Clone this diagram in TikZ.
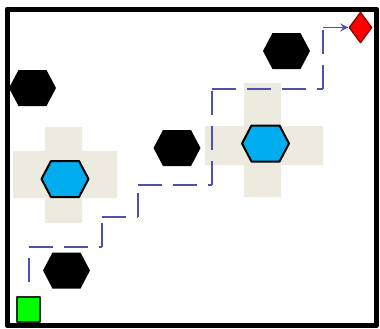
\documentclass[tikz,border=0pt]{standalone}
\usetikzlibrary{shapes.geometric}
\definecolor{sand}{RGB}{237,234,224}
\definecolor{sky}{RGB}{0,174,239}
\definecolor{route}{RGB}{80,80,176}
\begin{document}
\begin{tikzpicture}[x=0.5pt,y=-0.5pt,line join=round,>=stealth,every node/.style={inner sep=0pt},
  hex/.pic={\path[pic actions] (-23.5,0) -- (-14,-18) -- (14,-18) -- (23.5,0) -- (14,18) -- (-14,18) -- cycle;},
  leg/.style={draw=route,line width=0.8pt,dash pattern=on 12pt off 5.5pt}]
  \useasboundingbox (0,0) rectangle (380,328);
  \fill[sand] (13,151) rectangle (117,198) (45,127) rectangle (82,223);
  \fill[sand] (205,126) rectangle (323,165) (244,83) rectangle (281,197);
  \node[rectangle,draw=black!85,line width=1pt,fill=green,minimum width=11.5pt,minimum height=12.5pt] (start) at (28.5,309.5) {};
  \node[diamond,draw=red!50!black,line width=0.6pt,fill=red,minimum width=11.5pt,minimum height=15.5pt] (goal) at (360.5,27.5) {};
  \coordinate (p0) at (29,282);
  \coordinate (p1) at (29,247);
  \coordinate (p2) at (102,247);
  \coordinate (p3) at (102,217);
  \coordinate (p4) at (138,217);
  \coordinate (p5) at (138,185);
  \coordinate (p6) at (212,185);
  \coordinate (p7) at (212,89);
  \coordinate (p8) at (323,89);
  \coordinate (p9) at (323,27.5);
  \foreach \a/\b in {p0/p1,p1/p2,p2/p3,p3/p4,p4/p5,p5/p6,p6/p7,p7/p8,p8/p9}
    \draw[leg] (\a) -- (\b);
  \draw[leg,->] (p9) -- (goal.west);
  \foreach \c in {(32.5,88),(177,148),(286.5,51),(66.5,270.5)}
    \pic[fill=black] at \c {hex};
  \foreach \c in {(65,179),(265.5,143.5)}
    \pic[fill=sky,draw=black,line width=1pt] at \c {hex};
  \draw[line width=2.5pt] (7,9) rectangle (376.5,325.5);
\end{tikzpicture}
\end{document}
